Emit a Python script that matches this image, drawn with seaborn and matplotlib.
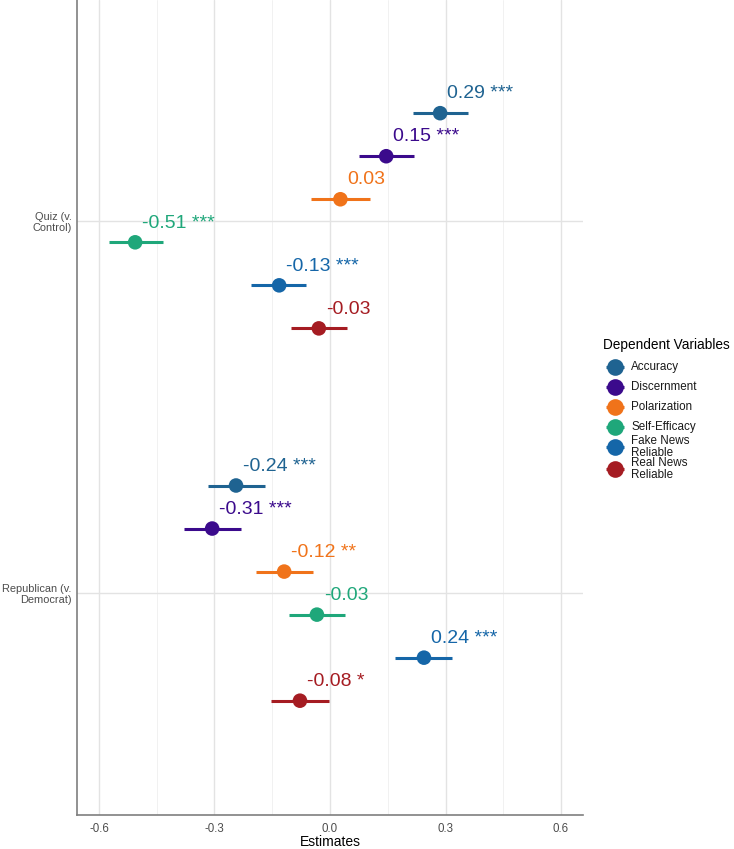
import numpy as np
import pandas as pd
import matplotlib
matplotlib.use("Agg")
import matplotlib.pyplot as plt
from matplotlib.lines import Line2D
import seaborn as sns

# Data
terms = ["Quiz (v.\nControl)", "Republican (v.\nDemocrat)"]
outcomes = ["Accuracy", "Discernment", "Polarization", "Self-Efficacy",
            "Fake News\nReliable", "Real News\nReliable"]
colors = ["#1F6391", "#3B0A8C", "#F0731A", "#1FA77A", "#1566A8", "#A51C22"]

est_quiz = [0.286, 0.146, 0.027, -0.506, -0.132, -0.029]
lo_quiz = [0.215, 0.075, -0.050, -0.574, -0.205, -0.100]
hi_quiz = [0.358, 0.218, 0.104, -0.434, -0.062, 0.044]
stars_quiz = ["***", "***", "", "***", "***", ""]

est_rep = [-0.244, -0.306, -0.119, -0.034, 0.244, -0.078]
lo_rep = [-0.317, -0.379, -0.192, -0.106, 0.169, -0.153]
hi_rep = [-0.169, -0.231, -0.044, 0.039, 0.317, -0.003]
stars_rep = ["***", "***", "**", "", "***", "*"]

rows = []
for term, est, lo, hi, st in [(terms[0], est_quiz, lo_quiz, hi_quiz, stars_quiz),
                              (terms[1], est_rep, lo_rep, hi_rep, stars_rep)]:
    for k, o in enumerate(outcomes):
        rows.append(dict(term=term, outcome=o, est=est[k], lo=lo[k], hi=hi[k], stars=st[k]))
df = pd.DataFrame(rows)

# discrete y positions, top group first, dodged within group
n = len(outcomes)
dodge = 0.1156
df["ypos"] = df["term"].map({terms[0]: 2, terms[1]: 1}) + \
    df["outcome"].map({o: (n / 2 - 0.5 - i) * dodge for i, o in enumerate(outcomes)})

sns.set_theme(style="white")
plt.rcParams["font.family"] = ["Liberation Sans", "DejaVu Sans"]

W, H = 734, 849
fig = plt.figure(figsize=(W / 100, H / 100), dpi=100)
ax = fig.add_axes([77 / W, 34 / H, (583 - 77) / W, (H - 34) / H])

pal = dict(zip(outcomes, colors))

# gridlines
for v in [-0.6, -0.3, 0.0, 0.3, 0.6]:
    ax.axvline(v, color="#E3E3E3", lw=1.0, zorder=0)
for v in [-0.45, -0.15, 0.15, 0.45]:
    ax.axvline(v, color="#EFEFEF", lw=0.6, zorder=0)
for v in [1, 2]:
    ax.axhline(v, color="#E3E3E3", lw=1.0, zorder=0)

for _, r in df.iterrows():
    ax.plot([r.lo, r.hi], [r.ypos, r.ypos], color=pal[r.outcome], lw=2.2,
            solid_capstyle="butt", zorder=2)

sns.scatterplot(data=df, x="est", y="ypos", hue="outcome", palette=pal,
                s=110, edgecolor="none", legend=False, ax=ax, zorder=3)

for _, r in df.iterrows():
    lab = f"{r.est:.2f}" + (f" {r.stars}" if r.stars else "")
    ax.text(r.est + 0.018, r.ypos + 0.029, lab, color=pal[r.outcome],
            fontsize=14, ha="left", va="bottom")

ax.set_xlim(-0.657, 0.657)
ax.set_ylim(0.404, 2.593)
ax.set_xticks([-0.6, -0.3, 0.0, 0.3, 0.6])
ax.set_xticklabels(["-0.6", "-0.3", "0.0", "0.3", "0.6"])
ax.set_yticks([2, 1])
ax.set_yticklabels(terms, ha="right", multialignment="right", linespacing=1.15)
ax.tick_params(axis="both", length=0, colors="#4D4D4D")
ax.tick_params(axis="x", pad=5.5, labelsize=8.3)
ax.tick_params(axis="y", pad=4, labelsize=7.9)
ax.set_xlabel("Estimates", fontsize=10, color="black", labelpad=0)
ax.set_ylabel("")

for s in ["top", "right"]:
    ax.spines[s].set_visible(False)
for s in ["left", "bottom"]:
    ax.spines[s].set_color("#7F7F7F")
    ax.spines[s].set_linewidth(1.2)

# legend drawn by hand so the two-line keys keep the tight ggplot spacing
fig.text(603 / W, 1 - 345 / H, "Dependent Variables", fontsize=9.8,
         ha="left", va="center", color="black")
row_y = [367, 387, 407, 427, 447, 469]
for o, c, yy in zip(outcomes, colors, row_y):
    fy = 1 - yy / H
    fig.add_artist(Line2D([606 / W, 624 / W], [fy, fy], color=c, lw=2.2,
                          solid_capstyle="butt", transform=fig.transFigure))
    fig.add_artist(Line2D([615 / W], [fy], color=c, marker="o", markersize=12,
                          markeredgewidth=0, transform=fig.transFigure))
    fig.text(631 / W, fy, o, fontsize=8.4, ha="left", va="center",
             linespacing=0.95, color="#1A1A1A")

fig.savefig("out.png", dpi=100)
